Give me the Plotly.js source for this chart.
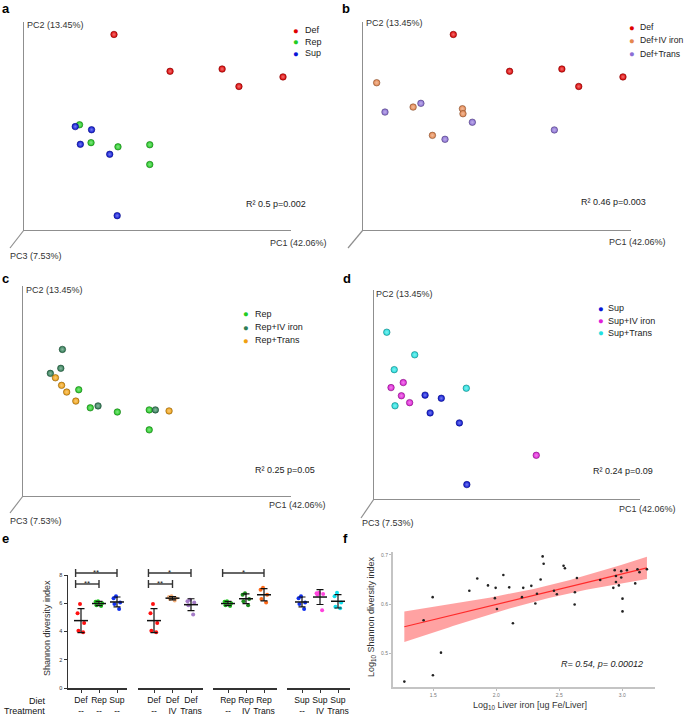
<!DOCTYPE html>
<html>
<head>
<meta charset="utf-8">
<script src="https://cdn.plot.ly/plotly-3.0.1.min.js"></script>
<style>
  html, body { margin: 0; padding: 0; background: #fff; }
  #fig { width: 685px; height: 717px; }
</style>
</head>
<body>
<div id="fig"></div>
<script>
// ---- a-d: PCoA coordinates, relative units along the PC1 / PC2 axes (0-100) ----
var defX = [33.7, 54.7, 74.2, 80.5, 97.0];
var defY = [94.0, 76.3, 77.4, 69.0, 73.6];
var repX = [20.8, 25.1, 35.2, 47.1, 47.1];
var repY = [50.6, 42.0, 40.0, 41.0, 31.5];
var supX = [19.2, 25.3, 21.1, 32.1, 34.9];
var supY = [49.7, 48.2, 41.2, 36.4, 6.9];
var defIvX = [5.1, 18.7, 37.1, 37.3, 25.9];
var defIvY = [70.8, 59.1, 58.3, 55.9, 45.5];
var defTransX = [8.2, 21.6, 40.8, 30.6, 71.4];
var defTransY = [56.7, 60.9, 51.8, 43.6, 48.1];
var repIvX = [14.7, 14.1, 10.2, 28.0, 49.4];
var repIvY = [69.8, 60.8, 58.4, 42.9, 41.0];
var repTransX = [12.1, 14.4, 16.3, 19.7, 54.5];
var repTransY = [56.3, 52.7, 49.5, 45.2, 40.5];
var supIvX = [6.4, 11.0, 10.3, 13.4, 61.0];
var supIvY = [53.3, 55.7, 49.4, 46.1, 20.9];
var supTransX = [4.8, 15.3, 7.6, 34.7, 7.9];
var supTransY = [79.8, 69.0, 61.9, 53.0, 44.6];

// ---- e: Shannon diversity index per mouse ----
var shDef = [5.95, 5.3, 4.6, 3.95, 4.05];
var shRep = [6.15, 6.1, 6.0, 5.8, 5.85];
var shSup = [6.5, 6.35, 6.05, 5.95, 5.6];
var shDefIv = [6.5, 6.45, 6.35, 6.3, 6.2];
var shDefTrans = [6.25, 6.15, 6.05, 5.85, 5.2];
var shRepIv = [6.7, 6.6, 6.3, 6.15, 5.85];
var shRepTrans = [7.1, 6.95, 6.6, 6.3, 6.05];
var shSupIv = [6.75, 6.7, 6.65, 6.6, 5.5];
var shSupTrans = [6.75, 6.5, 6.05, 5.75, 5.65];
var dietLabels = [["Def", "Rep", "Sup"], ["Def", "Def", "Def"], ["Rep", "Rep", "Rep"], ["Sup", "Sup", "Sup"]];
var treatLabels = [["--", "--", "--"], ["--", "IV", "Trans"], ["--", "IV", "Trans"], ["--", "IV", "Trans"]];

// ---- f: log10 liver iron vs log10 Shannon ----
var ironLog = [1.27, 1.423, 1.495, 1.497, 1.561, 1.786, 1.849, 1.934, 1.995, 1.989, 2.005, 2.056, 2.103, 2.132,
  2.214, 2.204, 2.278, 2.31, 2.323, 2.352, 2.368, 2.376, 2.458, 2.481, 2.534, 2.545, 2.622, 2.624, 2.64,
  2.825, 2.929, 2.94, 2.95, 2.95, 2.973, 2.992, 2.992, 3.002, 3.002, 3.037, 3.103, 3.121, 3.137, 3.196];
var shannonLog = [0.442, 0.567, 0.614, 0.455, 0.501, 0.627, 0.652, 0.638, 0.633, 0.612, 0.590, 0.659, 0.634, 0.561,
  0.633, 0.614, 0.637, 0.601, 0.621, 0.650, 0.697, 0.682, 0.627, 0.620, 0.678, 0.673, 0.599, 0.624, 0.653,
  0.649, 0.633, 0.669, 0.657, 0.645, 0.638, 0.667, 0.654, 0.611, 0.585, 0.669, 0.642, 0.671, 0.665, 0.671];

var W = 685, H = 717;
var FONT = "Liberation Sans, Arial, sans-serif";
function fx(p) { return p / W; }
function fy(p) { return 1 - p / H; }

function mix(hex, other, t) {
  var a = [1, 3, 5].map(function (i) { return parseInt(hex.substr(i, 2), 16); });
  var c = a.map(function (v, i) { return Math.round(v + (other[i] - v) * t); });
  return "rgb(" + c.join(",") + ")";
}

function note(text, x, y, size, opts) {
  opts = opts || {};
  return {
    xref: "paper", yref: "paper", x: fx(x), y: fy(y), text: text, showarrow: false,
    xanchor: opts.xanchor || "left", yanchor: "middle", textangle: opts.angle || 0,
    borderpad: 0,
    font: { family: FONT, size: size, color: opts.color || "#333" }
  };
}

var traces = [];
var layout = {
  width: W, height: H, margin: { l: 0, r: 0, t: 0, b: 0 },
  paper_bgcolor: "#fff", plot_bgcolor: "rgba(0,0,0,0)",
  showlegend: false, font: { family: FONT },
  annotations: [], shapes: []
};

// ---------- a-d ----------
var cDef = "#e00000", cRep = "#22cc22", cSup = "#0a14d8";
// leg: bullet x, text x, first row y, row step, text size
var pcPanels = [
  { n: 1, xd: [24, 291], yd: [22, 230],
    groups: [["Def", defX, defY, cDef], ["Rep", repX, repY, cRep], ["Sup", supX, supY, cSup]],
    leg: [296, 304, 30, 11.5, 9], r2: ["R² 0.5 p=0.002", 245, 204],
    pc2: [26, 25], pc1: [269, 243], pc3: [9, 256], diag: [24, 230, 10, 248], letter: ["a", 1, 8] },
  { n: 2, xd: [363, 631], yd: [22, 230],
    groups: [["Def", defX, defY, cDef], ["Def+IV iron", defIvX, defIvY, "#e5874f"], ["Def+Trans", defTransX, defTransY, "#8b6fd6"]],
    leg: [632, 639, 27, 13.5, 8.6], r2: ["R² 0.46 p=0.003", 580, 202],
    pc2: [365, 23], pc1: [608, 242], pc3: null, diag: [363, 230, 348, 248], letter: ["b", 341, 8] },
  { n: 3, xd: [23, 291], yd: [286, 496],
    groups: [["Rep", repX, repY, cRep], ["Rep+IV iron", repIvX, repIvY, "#2f7d55"], ["Rep+Trans", repTransX, repTransY, "#f0a010"]],
    leg: [246, 254, 314, 13, 9], r2: ["R² 0.25 p=0.05", 254, 470],
    pc2: [25, 290], pc1: [268, 505], pc3: [9, 521], diag: [23, 496, 10, 513], letter: ["c", 1, 278] },
  { n: 4, xd: [374, 640], yd: [290, 499],
    groups: [["Sup", supX, supY, cSup], ["Sup+IV iron", supIvX, supIvY, "#e020d8"], ["Sup+Trans", supTransX, supTransY, "#22e0e0"]],
    leg: [601, 607, 308, 12.5, 9], r2: ["R² 0.24 p=0.09", 592, 471],
    pc2: [375, 294], pc1: [618, 509], pc3: [361, 523], diag: [374, 499, 361, 518], letter: ["d", 342, 278] }
];

pcPanels.forEach(function (p) {
  var xa = "x" + p.n, ya = "y" + p.n;
  var axBase = {
    range: [0, 100], showline: true, linecolor: "#8f8f8f", linewidth: 1.3,
    showgrid: false, zeroline: false, showticklabels: false, ticks: "", fixedrange: true
  };
  layout["xaxis" + p.n] = Object.assign({}, axBase, { domain: [fx(p.xd[0]), fx(p.xd[1])], anchor: ya });
  layout["yaxis" + p.n] = Object.assign({}, axBase, { domain: [fy(p.yd[1]), fy(p.yd[0])], anchor: xa });

  p.groups.forEach(function (g, i) {
    traces.push({
      type: "scatter", mode: "markers", name: g[0], x: g[1], y: g[2], xaxis: xa, yaxis: ya,
      cliponaxis: false, hoverinfo: "name",
      marker: {
        size: 6.5, color: g[3],
        gradient: { type: "radial", color: mix(g[3], [255, 255, 255], 0.45) },
        line: { width: 0.6, color: mix(g[3], [0, 0, 0], 0.45) }
      }
    });
    layout.annotations.push(note("●", p.leg[0], p.leg[2] + i * p.leg[3], 9.5, { xanchor: "center", color: g[3] }));
    layout.annotations.push(note(g[0], p.leg[1], p.leg[2] + i * p.leg[3], p.leg[4], { color: "#222" }));
  });

  layout.annotations.push(note(p.r2[0], p.r2[1], p.r2[2], 9, { color: "#222" }));
  layout.annotations.push(note("PC2 (13.45%)", p.pc2[0], p.pc2[1], 9));
  layout.annotations.push(note("PC1 (42.06%)", p.pc1[0], p.pc1[1], 9));
  if (p.pc3) layout.annotations.push(note("PC3 (7.53%)", p.pc3[0], p.pc3[1], 9));
  layout.annotations.push(note("<b>" + p.letter[0] + "</b>", p.letter[1], p.letter[2], 13, { color: "#000" }));
  layout.shapes.push({
    type: "line", xref: "paper", yref: "paper",
    x0: fx(p.diag[0]), y0: fy(p.diag[1]), x1: fx(p.diag[2]), y1: fy(p.diag[3]),
    line: { color: "#8f8f8f", width: 1.2 }
  });
});

// ---------- e ----------
var shannonGroups = [[shDef, shRep, shSup], [shDef, shDefIv, shDefTrans], [shRep, shRepIv, shRepTrans], [shSup, shSupIv, shSupTrans]];
var eColors = [["#ff1010", "#22cc22", "#1030ee"], ["#ff1010", "#f5b07a", "#a67cc8"], ["#22cc22", "#1c8c1c", "#ff6a1a"], ["#1030ee", "#ff44dd", "#10e0ee"]];
// [axis line left, axis line right, first tick, last tick] in px
var eGroupsPx = [[68, 127, 81, 117], [138, 203, 154, 191], [213, 277, 228, 264], [287, 350, 302, 338]];

function mean(a) { return a.reduce(function (s, v) { return s + v; }, 0) / a.length; }
function sd(a) {
  var m = mean(a);
  return Math.sqrt(a.reduce(function (s, v) { return s + (v - m) * (v - m); }, 0) / (a.length - 1));
}

layout.yaxis5 = {
  domain: [fy(688), fy(575)], range: [0, 8], anchor: "x5",
  showline: true, linecolor: "#333", linewidth: 1.5, ticks: "outside", ticklen: 3, tickwidth: 1,
  tickcolor: "#333", tickvals: [0, 2, 4, 6, 8], tickfont: { family: FONT, size: 5.5, color: "#333" },
  showgrid: false, zeroline: false, fixedrange: true
};

eGroupsPx.forEach(function (gp, g) {
  var xa = "x" + (5 + g);
  var cats = dietLabels[g].map(function (d, i) { return d + "<br>" + treatLabels[g][i]; });
  var per = (gp[3] - gp[2]) / 2;
  layout["xaxis" + (5 + g)] = {
    domain: [fx(gp[0]), fx(gp[1])], anchor: "y5", type: "category",
    categoryorder: "array", categoryarray: cats,
    range: [(gp[0] - gp[2]) / per, (gp[1] - gp[2]) / per],
    showline: true, linecolor: "#333", linewidth: 1.5, ticks: "outside", ticklen: 3, tickwidth: 1,
    tickcolor: "#333", tickangle: 0, tickfont: { family: FONT, size: 8.6, color: "#111" },
    showgrid: false, zeroline: false, fixedrange: true
  };
  var means = [], sds = [];
  shannonGroups[g].forEach(function (vals, i) {
    traces.push({
      type: "box", x: vals.map(function () { return cats[i]; }), y: vals, xaxis: xa, yaxis: "y5",
      boxpoints: "all", jitter: 0.9, pointpos: 0, width: 0.5,
      fillcolor: "rgba(0,0,0,0)", line: { color: "rgba(0,0,0,0)", width: 0 },
      marker: { color: eColors[g][i], size: 4 }, hoverinfo: "y"
    });
    means.push(mean(vals));
    sds.push(sd(vals));
  });
  traces.push({
    type: "scatter", mode: "markers", x: cats, y: means, xaxis: xa, yaxis: "y5", hoverinfo: "y",
    marker: { symbol: "line-ew", size: 10, color: "#111", line: { width: 1.5, color: "#111" } },
    error_y: { type: "data", array: sds, visible: true, color: "#111", thickness: 1.2, width: 3.5 }
  });
});

// significance brackets: group, from, to, y px, label
var brackets = [[0, 0, 2, 573, "**"], [0, 0, 1, 584, "**"], [1, 0, 2, 573, "*"], [1, 0, 1, 584, "**"], [2, 0, 2, 573, "*"]];
brackets.forEach(function (b) {
  var xa = "x" + (5 + b[0]);
  var x0 = b[1] - 0.3, x1 = b[2];
  var st = { color: "#333", width: 1.4 };
  layout.shapes.push({ type: "line", xref: xa, yref: "paper", x0: x0, x1: x1, y0: fy(b[3]), y1: fy(b[3]), line: st });
  layout.shapes.push({ type: "line", xref: xa, yref: "paper", x0: x0, x1: x0, y0: fy(b[3] - 4), y1: fy(b[3] + 4), line: st });
  layout.shapes.push({ type: "line", xref: xa, yref: "paper", x0: x1, x1: x1, y0: fy(b[3] - 4), y1: fy(b[3] + 4), line: st });
  layout.annotations.push({
    xref: xa, yref: "paper", x: (x0 + x1) / 2, y: fy(b[3] - 0.5), text: b[4], showarrow: false,
    xanchor: "center", yanchor: "middle", borderpad: 0, font: { family: FONT, size: 8, color: "#222" }
  });
});

layout.annotations.push(note("Shannon diversity index", 47, 628, 9, { xanchor: "center", angle: -90 }));
layout.annotations.push(note("Diet", 47, 701, 9, { xanchor: "right", color: "#111" }));
layout.annotations.push(note("Treatment", 46, 711, 9, { xanchor: "right", color: "#111" }));
layout.annotations.push(note("<b>e</b>", 1, 538, 13, { color: "#000" }));

// ---------- f ----------
var n = ironLog.length;
var xbar = mean(ironLog), ybar = mean(shannonLog);
var sxx = 0, sxy = 0;
for (var i = 0; i < n; i++) {
  sxx += (ironLog[i] - xbar) * (ironLog[i] - xbar);
  sxy += (ironLog[i] - xbar) * (shannonLog[i] - ybar);
}
var slope = sxy / sxx, icept = ybar - slope * xbar;
var sse = 0;
for (i = 0; i < n; i++) {
  var r = shannonLog[i] - (icept + slope * ironLog[i]);
  sse += r * r;
}
var sres = Math.sqrt(sse / (n - 2)), tval = 2.018;
var xmin = Math.min.apply(null, ironLog), xmax = Math.max.apply(null, ironLog);
var fitX = [], fitY = [], upY = [], loY = [];
for (i = 0; i <= 60; i++) {
  var xv = xmin + (xmax - xmin) * i / 60;
  var yv = icept + slope * xv;
  var se = sres * Math.sqrt(1 / n + (xv - xbar) * (xv - xbar) / sxx);
  fitX.push(xv); fitY.push(yv); upY.push(yv + tval * se); loY.push(yv - tval * se);
}

traces.push({
  type: "scatter", mode: "lines", x: fitX.concat(fitX.slice().reverse()), y: upY.concat(loY.slice().reverse()),
  xaxis: "x9", yaxis: "y6", fill: "toself", fillcolor: "rgba(255,70,70,0.5)", line: { width: 0 }, hoverinfo: "skip"
});
traces.push({
  type: "scatter", mode: "lines", x: fitX, y: fitY, xaxis: "x9", yaxis: "y6",
  line: { color: "#ff2a2a", width: 1.1 }, hoverinfo: "skip"
});
traces.push({
  type: "scatter", mode: "markers", x: ironLog, y: shannonLog, xaxis: "x9", yaxis: "y6",
  marker: { color: "#222", size: 2.6 }, cliponaxis: false
});

var fAx = {
  showline: true, linecolor: "#c4c4c4", linewidth: 2, ticks: "outside", ticklen: 2, tickwidth: 1,
  tickcolor: "#bbb", tickformat: ".1f", tickfont: { family: FONT, size: 5, color: "#777" },
  showgrid: false, zeroline: false, fixedrange: true
};
layout.xaxis9 = Object.assign({}, fAx, { domain: [fx(393), fx(655)], range: [1.18, 3.26], anchor: "y6", tickvals: [1.5, 2, 2.5, 3] });
layout.yaxis6 = Object.assign({}, fAx, { domain: [fy(687), fy(552)], range: [0.431, 0.706], anchor: "x9", tickvals: [0.5, 0.6, 0.7] });

layout.annotations.push(note("Log<sub>10</sub> Shannon diversity index", 371, 617, 9, { xanchor: "center", angle: -90 }));
layout.annotations.push(note("Log<sub>10</sub> Liver iron [ug Fe/Liver]", 530, 705, 9, { xanchor: "center" }));
layout.annotations.push(note("<i>R= 0.54, p= 0.00012</i>", 560, 664, 9, { color: "#222" }));
layout.annotations.push(note("<b>f</b>", 342, 538, 13, { color: "#000" }));

Plotly.newPlot("fig", traces, layout, { displayModeBar: false, staticPlot: true });
</script>
</body>
</html>
